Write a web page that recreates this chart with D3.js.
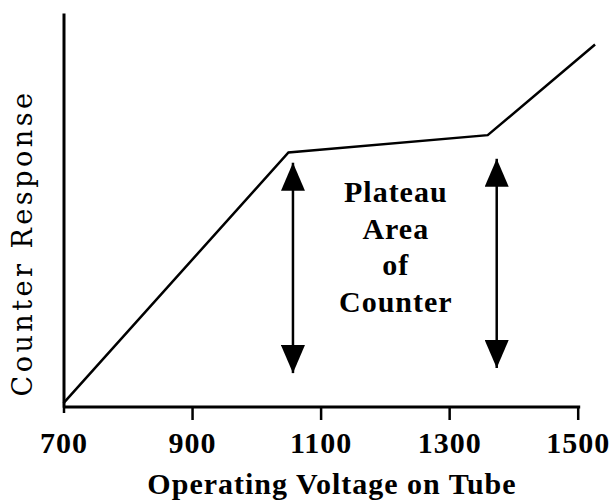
<!DOCTYPE html>
<html>
<head>
<meta charset="utf-8">
<script src="https://cdn.jsdelivr.net/npm/d3@7"></script>
<style>
  body { margin: 0; background: #fff; }
  svg { display: block; }
</style>
</head>
<body>
<svg id="chart" width="613" height="504"></svg>
<script>
// data
var voltage = [700, 1050, 1360, 1527];
var response = [1, 64.6, 69, 92];
var tickValues = [700, 900, 1100, 1300, 1500];
var arrowVoltage = [1057, 1374];
var arrowTop = [62, 63];
var arrowBottom = [8.6, 9.9];
var noteLines = ["Plateau", "Area", "of", "Counter"];

var width = 613, height = 504;
var svg = d3.select("#chart");

var x = d3.scaleLinear().domain([700, 1500]).range([63.5, 577.7]);
var y = d3.scaleLinear().domain([0, 100]).range([407, 13]);

var serif = "'Liberation Serif', 'Times New Roman', serif";

// arrow heads
var defs = svg.append("defs");
defs.append("marker")
	.attr("id", "head")
	.attr("markerUnits", "userSpaceOnUse")
	.attr("viewBox", "0 -12 28 24")
	.attr("refX", 28)
	.attr("refY", 0)
	.attr("markerWidth", 28)
	.attr("markerHeight", 24)
	.attr("orient", "auto-start-reverse")
	.append("path")
	.attr("d", "M0,-12L28,0L0,12Z")
	.attr("fill", "black");

// x axis
var xAxis = svg.append("g")
	.attr("transform", "translate(0," + y(0) + ")")
	.call(d3.axisBottom(x).tickValues(tickValues).tickFormat(d3.format("d"))
		.tickSize(13).tickSizeOuter(0).tickPadding(12));

xAxis.select(".domain").attr("stroke-width", 3).attr("d", "M" + x(700) + ",0H" + (x(1500) + 2.5));
xAxis.selectAll(".tick line").attr("stroke-width", 2.5);
xAxis.selectAll(".tick").filter(function(d) { return d === 700; }).select("line").attr("y2", 6);
xAxis.selectAll(".tick text")
	.attr("fill", "black")
	.style("font-family", serif)
	.style("font-weight", "bold")
	.style("font-size", "30px")
	.style("letter-spacing", "1px");

// y axis: plain line, no ticks
var yAxis = svg.append("g")
	.attr("transform", "translate(" + x(700) + ",0)")
	.call(d3.axisLeft(y).ticks(0).tickSizeOuter(0));
yAxis.select(".domain").attr("stroke-width", 3);

// response curve
var line = d3.line()
	.x(function(d, i) { return x(voltage[i]); })
	.y(function(d) { return y(d); });

svg.append("path")
	.datum(response)
	.attr("d", line)
	.attr("fill", "none")
	.attr("stroke", "black")
	.attr("stroke-width", 2.5)
	.attr("stroke-linejoin", "miter");

// plateau arrows
svg.selectAll(".arrow")
	.data(arrowVoltage)
	.enter().append("line")
	.attr("class", "arrow")
	.attr("x1", function(d) { return x(d); })
	.attr("x2", function(d) { return x(d); })
	.attr("y1", function(d, i) { return y(arrowTop[i]); })
	.attr("y2", function(d, i) { return y(arrowBottom[i]); })
	.attr("stroke", "black")
	.attr("stroke-width", 2.5)
	.attr("marker-start", "url(#head)")
	.attr("marker-end", "url(#head)");

// note text
var note = svg.append("text")
	.attr("x", x(1217))
	.attr("y", y(52))
	.attr("text-anchor", "middle")
	.style("font-family", serif)
	.style("font-weight", "bold")
	.style("font-size", "30px")
	.style("letter-spacing", "1px");

note.selectAll("tspan")
	.data(noteLines)
	.enter().append("tspan")
	.attr("x", x(1217))
	.attr("dy", function(d, i) { return i === 0 ? 0 : 36.5; })
	.text(function(d) { return d; });

// axis titles
svg.append("text")
	.attr("x", 332)
	.attr("y", 494)
	.attr("text-anchor", "middle")
	.style("font-family", serif)
	.style("font-weight", "bold")
	.style("font-size", "30px")
	.style("letter-spacing", "1px")
	.text("Operating Voltage on Tube");

svg.append("text")
	.attr("transform", "translate(32,243)rotate(-90)")
	.attr("text-anchor", "middle")
	.style("font-family", "'DejaVu Serif', serif")
	.style("font-size", "27px")
	.style("letter-spacing", "3.5px")
	.text("Counter Response");
</script>
</body>
</html>
